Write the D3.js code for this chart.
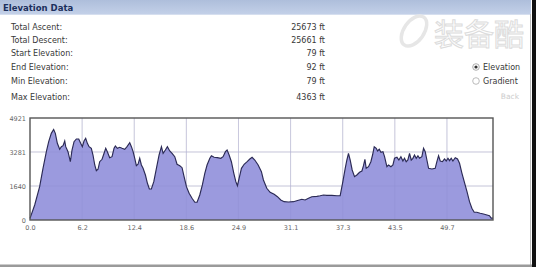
<!DOCTYPE html>
<html>
<head>
<meta charset="utf-8">
<script src="https://cdn.jsdelivr.net/npm/d3@7"></script>
<style>
  body { margin: 0; background: #fff; }
  svg { display: block; font-family: "DejaVu Sans", Verdana, sans-serif; }
</style>
</head>
<body>
<svg id="chart" width="536" height="267"></svg>
<script>
var width = 536;
var height = 267;

// summary rows
var statLabels = ["Total Ascent:", "Total Descent:", "Start Elevation:", "End Elevation:", "Min Elevation:", "Max Elevation:"];
var statValues = ["25673 ft", "25661 ft", "79 ft", "92 ft", "79 ft", "4363 ft"];

// profile (miles, feet)
var miles = [0, 0.56, 1.15, 1.55, 1.95, 2.23, 2.54, 2.82, 3.02, 3.26, 3.54, 3.74, 3.94, 4.14, 4.26, 4.53, 4.81, 5.01, 5.25, 5.53,
  5.81, 6.04, 6.24, 6.44, 6.64, 6.84, 7.04, 7.31, 7.51, 7.72, 7.91, 8.11, 8.31, 8.59, 8.83, 9.03, 9.22, 9.5, 9.78, 10.02,
  10.18, 10.41, 10.7, 10.97, 11.29, 11.57, 11.89, 12.09, 12.29, 12.49, 12.68, 12.88, 13.08, 13.28, 13.48, 13.76, 14, 14.23, 14.47, 14.76,
  15.07, 15.39, 15.67, 15.87, 16.14, 16.38, 16.66, 16.94, 17.26, 17.53, 17.86, 18.13, 18.37, 18.65, 18.97, 19.32, 19.65, 19.92, 20.24, 20.55,
  20.84, 21.11, 21.44, 21.63, 21.95, 22.34, 22.75, 23.02, 23.3, 23.5, 23.74, 24.01, 24.3, 24.54, 24.73, 24.93, 25.21, 25.53, 25.89, 26.21,
  26.48, 26.8, 27.2, 27.59, 27.83, 28.23, 28.63, 29.11, 29.5, 29.9, 30.3, 30.81, 31.41, 32, 32.41, 32.8, 33.2, 33.6, 34.2, 34.59,
  34.99, 35.39, 35.99, 36.59, 36.98, 37.3, 37.58, 37.78, 37.97, 38.17, 38.41, 38.69, 38.97, 39.29, 39.57, 39.76, 39.93, 40.08, 40.36, 40.64,
  40.84, 41.04, 41.28, 41.44, 41.64, 41.84, 42.08, 42.27, 42.55, 42.75, 43.03, 43.27, 43.46, 43.75, 43.98, 44.22, 44.46, 44.65, 44.85, 45.05,
  45.25, 45.45, 45.65, 45.84, 46.05, 46.25, 46.44, 46.72, 46.92, 47.12, 47.32, 47.52, 47.92, 48.31, 48.51, 48.71, 48.91, 49.18, 49.42, 49.62,
  49.83, 50.02, 50.22, 50.42, 50.7, 50.97, 51.21, 51.5, 51.77, 52.1, 52.4, 52.68, 52.96, 53.27, 53.67, 54.07, 54.48, 54.78, 54.98, 55.2];
var feet = [79, 724, 1607, 2494, 3296, 3778, 4180, 4363, 4180, 3700, 3411, 3537, 3585, 3812, 3537, 3296, 2813, 3377, 3778, 3908,
  3908, 3700, 3537, 3812, 3942, 3700, 3537, 3459, 3136, 2654, 2379, 2446, 2813, 2929, 3218, 3459, 3296, 3006, 3054, 3459,
  3570, 3459, 3508, 3459, 3411, 3537, 3730, 3537, 3296, 2977, 2620, 2688, 2977, 2654, 2494, 2171, 1771, 1496, 1496, 1848,
  2494, 3136, 3537, 3218, 3377, 3537, 3329, 3218, 3054, 2688, 2620, 2524, 2089, 1607, 1288, 1047, 854, 854, 1206, 1689,
  2253, 2654, 2977, 3102, 3025, 3006, 2977, 3054, 3296, 3377, 3136, 2813, 2253, 1848, 1655, 2012, 2494, 2688, 2813, 2943,
  3025, 2895, 2654, 2330, 1930, 1529, 1336, 1240, 1124, 965, 883, 869, 883, 950, 999, 965, 1047, 1124, 1143, 1172,
  1206, 1191, 1191, 1172, 1172, 1848, 2494, 2895, 3218, 2895, 2413, 2089, 2171, 2301, 2364, 2620, 2929, 2494, 2572, 2813,
  3136, 3537, 3459, 3329, 3411, 3267, 3296, 3054, 2572, 2654, 2572, 2654, 2977, 3025, 2895, 3054, 2847, 2977, 2813, 2895,
  3218, 2895, 2977, 3136, 2977, 3102, 2977, 3054, 3459, 3296, 2895, 2494, 2461, 2494, 2813, 3102, 2847, 2813, 2943, 2847,
  2977, 2862, 2977, 2847, 3006, 2943, 2736, 2253, 1848, 1366, 883, 565, 372, 372, 323, 290, 241, 207, 92, 92];

var yTicks = [0, 1640, 3281, 4921];
var xTickLabels = ["0.0", "6.2", "12.4", "18.6", "24.9", "31.1", "37.3", "43.5", "49.7"];
var kmInMiles = 6.2137;

var svg = d3.select("#chart");

// header bar
var defs = svg.append("defs");
var grad = defs.append("linearGradient").attr("id", "hdr").attr("x1", 0).attr("y1", 0).attr("x2", 0).attr("y2", 1);
grad.append("stop").attr("offset", "0%").attr("stop-color", "#aebedb");
grad.append("stop").attr("offset", "100%").attr("stop-color", "#c3d0e8");
svg.append("rect").attr("x", 0).attr("y", 0).attr("width", 531).attr("height", 14).attr("fill", "url(#hdr)");
svg.append("line").attr("x1", 0).attr("x2", 531).attr("y1", 14.5).attr("y2", 14.5).attr("stroke", "#d6dfef");
svg.append("text").attr("x", 3).attr("y", 10.5)
  .attr("font-size", 8.5).attr("font-weight", "bold").attr("fill", "#1c2f5c")
  .text("Elevation Data");

// watermark
var wm = svg.append("g");
wm.append("ellipse").attr("cx", 414).attr("cy", 31).attr("rx", 10).attr("ry", 17)
  .attr("transform", "rotate(35,414,31)")
  .attr("fill", "none").attr("stroke", "#e6e6e6").attr("stroke-width", 3.5);
wm.append("text").attr("x", 434).attr("y", 45)
  .attr("font-family", "'Noto Sans CJK SC'").attr("font-size", 30)
  .attr("fill", "#fdfdfd").attr("stroke", "#dcdcdc").attr("stroke-width", 1)
  .text("装备酷");

// stat rows
var rowY = [27, 40, 53, 67, 81, 97];
svg.selectAll("text.lbl").data(statLabels).enter().append("text")
  .attr("class", "lbl").attr("x", 11).attr("y", function(d, i) { return rowY[i] + 3; })
  .attr("font-size", 8).attr("fill", "#383838").text(function(d) { return d; });
svg.selectAll("text.val").data(statValues).enter().append("text")
  .attr("class", "val").attr("x", 325).attr("y", function(d, i) { return rowY[i] + 3; })
  .attr("text-anchor", "end").attr("font-size", 8).attr("fill", "#383838").text(function(d) { return d; });

// radio buttons
svg.append("circle").attr("cx", 476).attr("cy", 67).attr("r", 3.3).attr("fill", "#fff").attr("stroke", "#999").attr("stroke-width", 0.8);
svg.append("circle").attr("cx", 476).attr("cy", 67).attr("r", 1.6).attr("fill", "#333");
svg.append("text").attr("x", 483).attr("y", 70).attr("font-size", 8).attr("fill", "#383838").text("Elevation");
svg.append("circle").attr("cx", 476).attr("cy", 81).attr("r", 3.3).attr("fill", "#fff").attr("stroke", "#aaa").attr("stroke-width", 0.8);
svg.append("text").attr("x", 483).attr("y", 84).attr("font-size", 8).attr("fill", "#383838").text("Gradient");
svg.append("text").attr("x", 519).attr("y", 99).attr("text-anchor", "end").attr("font-size", 7.5).attr("fill", "#ccc").text("Back");

// plot area
var plotL = 30, plotR = 493, plotT = 118, plotB = 220;
var x = d3.scaleLinear().domain([0, 55.2]).range([plotL, plotR]);
var y = d3.scaleLinear().domain([0, 4921]).range([plotB, plotT]);

var g = svg.append("g");
var xTickVals = xTickLabels.map(function(d, i) { return i * kmInMiles; });

g.selectAll("line.vg").data(xTickVals.slice(1)).enter().append("line")
  .attr("x1", function(d) { return x(d); }).attr("x2", function(d) { return x(d); })
  .attr("y1", plotT).attr("y2", plotB).attr("stroke", "#e4e4e4").attr("stroke-width", 1);
g.selectAll("line.hg").data(yTicks.slice(1, 3)).enter().append("line")
  .attr("x1", plotL).attr("x2", plotR)
  .attr("y1", function(d) { return y(d); }).attr("y2", function(d) { return y(d); })
  .attr("stroke", "#e4e4e4").attr("stroke-width", 1);

var pts = miles.map(function(m, i) { return [m, feet[i]]; });
var area = d3.area().x(function(d) { return x(d[0]); }).y0(plotB).y1(function(d) { return y(d[1]); });
var line = d3.line().x(function(d) { return x(d[0]); }).y(function(d) { return y(d[1]); });

g.append("path").datum(pts).attr("d", area).attr("fill", "#9b9ade");
// faint grid over the fill
g.selectAll("line.vg2").data(xTickVals.slice(1)).enter().append("line")
  .attr("x1", function(d) { return x(d); }).attr("x2", function(d) { return x(d); })
  .attr("y1", plotT).attr("y2", plotB).attr("stroke", "#8c8bd0").attr("stroke-width", 1).attr("opacity", 0.3);
g.selectAll("line.hg2").data(yTicks.slice(1, 3)).enter().append("line")
  .attr("x1", plotL).attr("x2", plotR)
  .attr("y1", function(d) { return y(d); }).attr("y2", function(d) { return y(d); })
  .attr("stroke", "#8c8bd0").attr("stroke-width", 1).attr("opacity", 0.3);
g.append("path").datum(pts).attr("d", line).attr("fill", "none").attr("stroke", "#2b2a55").attr("stroke-width", 1.15);

g.append("rect").attr("x", plotL).attr("y", plotT).attr("width", plotR - plotL).attr("height", plotB - plotT)
  .attr("fill", "none").attr("stroke", "#555").attr("stroke-width", 1.4);

// axes
var yAxis = d3.axisLeft(y).tickValues(yTicks).tickSize(0).tickPadding(4).tickFormat(d3.format("d"));
var ya = svg.append("g").attr("transform", "translate(" + plotL + ",0)").call(yAxis);
ya.select(".domain").remove();
ya.selectAll("text").attr("font-size", 6.5).attr("fill", "#666").attr("font-family", "'DejaVu Sans', Verdana, sans-serif");

var xAxis = d3.axisBottom(x).tickValues(xTickVals).tickSize(0).tickPadding(5)
  .tickFormat(function(d, i) { return xTickLabels[i]; });
var xa = svg.append("g").attr("transform", "translate(0," + plotB + ")").call(xAxis);
xa.select(".domain").remove();
xa.selectAll("text").attr("font-size", 6.5).attr("fill", "#666").attr("font-family", "'DejaVu Sans', Verdana, sans-serif");

// frame edges
svg.append("line").attr("x1", 530.5).attr("x2", 530.5).attr("y1", 14).attr("y2", 265).attr("stroke", "#bbb");
svg.append("rect").attr("x", 532).attr("y", 0).attr("width", 4).attr("height", height).attr("fill", "#111");
svg.append("rect").attr("x", 0).attr("y", 264.5).attr("width", 532).attr("height", 2.5).attr("fill", "#9a9a9a");
</script>
</body>
</html>
